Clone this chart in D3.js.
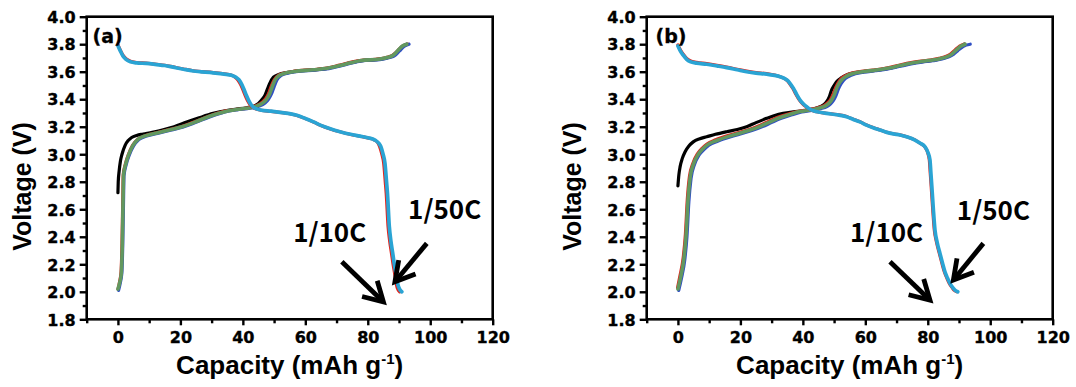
<!DOCTYPE html>
<html><head><meta charset="utf-8">
<script src="https://cdn.jsdelivr.net/npm/d3@7"></script>
<style>body{margin:0;background:#fff} svg{display:block}</style>
</head><body><svg id="c" width="1076" height="387"></svg>
<script>
// ---------- DATA (capacity mAh/g, voltage V) ----------
const xTicks = [0, 20, 40, 60, 80, 100, 120];
const xMinorTicks = [-10, 10, 30, 50, 70, 90, 110];
const yTickLabels = ["1.8","2.0","2.2","2.4","2.6","2.8","3.0","3.2","3.4","3.6","3.8","4.0"];
const yMinorTicks = [1.9, 2.1, 2.3, 2.5, 2.7, 2.9, 3.1, 3.3, 3.5, 3.7, 3.9];

// Panel (a)
const aChargeBlack = [[0.0,2.72],[0.1,2.80],[0.4,2.88],[0.8,2.95],[1.3,3.00],[2.3,3.065],[3.3,3.10],[4.4,3.122],[6.0,3.137],[8.1,3.147],[11.0,3.16],[14.5,3.178],[18.0,3.20],[22.0,3.234],[26.0,3.265],[30.5,3.297],[34.8,3.318],[38.0,3.328],[41.2,3.338],[43.5,3.35],[45.0,3.37],[46.2,3.40],[47.1,3.43],[47.8,3.47],[48.5,3.51],[49.8,3.56],[51.5,3.58],[54.0,3.594],[56.5,3.603],[62.6,3.613],[67.0,3.624],[71.1,3.645],[74.5,3.665],[77.5,3.679],[83.9,3.691],[86.5,3.704],[88.0,3.716],[89.5,3.748],[91.0,3.783],[92.4,3.80]];
const aChargeRed = [[0.05,2.02],[0.55,2.075],[1.0,2.145],[1.3,2.35],[1.5,2.60],[1.7,2.85],[2.4,2.93],[3.4,3.00],[4.7,3.065],[6.4,3.11],[8.9,3.136],[12.4,3.156],[16.9,3.181],[20.4,3.202],[23.9,3.23],[30.4,3.287],[34.7,3.315],[38.0,3.326],[41.2,3.335],[44.2,3.352],[46.2,3.378],[47.3,3.405],[48.3,3.445],[49.1,3.495],[50.0,3.54],[51.6,3.577],[53.8,3.593],[56.3,3.603],[62.5,3.615],[67.0,3.626],[71.0,3.648],[74.4,3.668],[77.4,3.681],[83.8,3.693],[86.5,3.706],[88.0,3.72],[89.6,3.752],[91.2,3.787],[92.8,3.80]];
const aChargeBlue = [[0.2,2.01],[0.75,2.065],[1.25,2.135],[1.55,2.35],[1.75,2.60],[1.95,2.845],[2.65,2.925],[3.65,2.995],[5.0,3.06],[6.7,3.106],[9.2,3.132],[12.7,3.152],[17.2,3.177],[20.7,3.197],[24.2,3.225],[30.7,3.282],[35.0,3.311],[38.2,3.323],[41.4,3.332],[44.9,3.347],[47.1,3.372],[48.2,3.40],[49.2,3.44],[50.0,3.49],[50.9,3.54],[52.4,3.574],[54.5,3.59],[57.0,3.6],[63.1,3.612],[67.5,3.623],[71.6,3.644],[75.0,3.664],[78.0,3.678],[84.4,3.69],[87.0,3.703],[88.6,3.716],[90.1,3.749],[91.6,3.784],[93.2,3.80]];
const aChargeGreen = [[0.0,2.02],[0.6,2.07],[1.1,2.14],[1.4,2.35],[1.6,2.60],[1.8,2.85],[2.5,2.93],[3.5,3.00],[4.8,3.065],[6.5,3.11],[9.0,3.135],[12.5,3.155],[17.0,3.18],[20.5,3.20],[24.0,3.228],[30.5,3.285],[34.8,3.313],[38.0,3.325],[41.2,3.334],[44.4,3.35],[46.5,3.375],[47.6,3.40],[48.6,3.44],[49.4,3.49],[50.3,3.54],[51.9,3.576],[54.0,3.592],[56.5,3.602],[62.6,3.614],[67.0,3.625],[71.1,3.645],[74.5,3.665],[77.5,3.68],[83.9,3.692],[86.5,3.705],[88.0,3.718],[89.5,3.75],[91.0,3.785],[92.5,3.80]];
const aDischargeRed = [[0.0,3.795],[0.8,3.755],[1.6,3.72],[2.6,3.694],[4.0,3.676],[6.0,3.667],[9.0,3.662],[12.4,3.654],[15.0,3.647],[17.7,3.635],[21.0,3.62],[24.1,3.607],[30.5,3.594],[34.0,3.585],[36.2,3.576],[37.5,3.56],[38.4,3.54],[39.2,3.51],[39.8,3.48],[40.6,3.435],[41.4,3.394],[42.3,3.36],[43.2,3.34],[44.5,3.327],[46.0,3.319],[49.0,3.312],[51.9,3.304],[54.5,3.296],[57.3,3.282],[60.0,3.259],[62.6,3.234],[65.0,3.209],[68.0,3.184],[71.1,3.163],[74.5,3.144],[77.5,3.131],[80.0,3.119],[82.2,3.102],[83.3,3.08],[83.8,3.055],[84.5,3.00],[85.1,2.934],[85.6,2.80],[85.9,2.716],[86.5,2.473],[87.0,2.37],[87.6,2.279],[88.1,2.20],[88.6,2.134],[89.0,2.08],[89.3,2.04],[89.7,2.015],[90.2,2.0]];
const aDischargeCyan = [[0.0,3.79],[0.8,3.75],[1.6,3.715],[2.6,3.69],[4.0,3.672],[6.0,3.664],[9.0,3.66],[12.4,3.652],[15.0,3.645],[17.7,3.633],[21.0,3.618],[24.1,3.605],[30.5,3.592],[34.0,3.583],[36.4,3.574],[37.8,3.56],[38.8,3.54],[39.6,3.51],[40.2,3.48],[41.0,3.435],[41.8,3.394],[42.6,3.362],[43.4,3.341],[44.6,3.328],[46.0,3.32],[49.0,3.313],[51.9,3.305],[54.5,3.297],[57.3,3.283],[60.0,3.26],[62.6,3.235],[65.0,3.21],[68.0,3.185],[71.1,3.164],[74.5,3.145],[77.5,3.132],[80.0,3.12],[82.3,3.103],[83.5,3.08],[84.2,3.055],[84.9,3.00],[85.5,2.934],[86.0,2.80],[86.3,2.716],[86.9,2.473],[87.4,2.37],[88.0,2.279],[88.5,2.20],[89.0,2.134],[89.4,2.08],[89.8,2.04],[90.3,2.015],[90.9,2.0]];

// Panel (b)
const bChargeBlack = [[0.0,2.77],[0.3,2.85],[0.7,2.91],[1.4,2.97],[2.3,3.018],[3.5,3.06],[4.9,3.09],[7.0,3.113],[9.2,3.127],[12.0,3.145],[15.6,3.164],[19.0,3.18],[22.0,3.20],[25.0,3.23],[28.4,3.261],[31.0,3.282],[33.7,3.297],[37.0,3.308],[40.2,3.316],[43.0,3.328],[45.5,3.345],[46.8,3.362],[47.6,3.382],[48.5,3.42],[49.2,3.467],[50.0,3.50],[50.8,3.527],[52.3,3.555],[54.0,3.576],[56.5,3.592],[59.0,3.60],[62.6,3.608],[67.0,3.623],[71.1,3.643],[74.5,3.66],[77.5,3.671],[81.0,3.681],[83.9,3.693],[86.0,3.707],[87.7,3.726],[89.0,3.752],[90.5,3.782],[91.7,3.80]];
const bChargeRed = [[-0.1,2.03],[0.6,2.11],[1.7,2.25],[2.4,2.42],[3.0,2.67],[3.7,2.84],[4.8,2.935],[6.3,3.005],[7.8,3.045],[9.3,3.075],[12.1,3.105],[17.4,3.145],[22.8,3.18],[26.2,3.21],[29.2,3.241],[32.2,3.27],[35.6,3.294],[38.7,3.313],[42.0,3.324],[44.7,3.338],[46.8,3.354],[48.0,3.375],[48.9,3.40],[49.7,3.437],[50.5,3.485],[51.3,3.52],[52.1,3.545],[53.7,3.572],[55.9,3.591],[58.7,3.602],[62.3,3.612],[66.7,3.627],[70.8,3.647],[74.2,3.664],[77.2,3.675],[80.7,3.685],[83.6,3.697],[85.7,3.71],[87.4,3.73],[88.7,3.757],[90.2,3.787],[91.6,3.80]];
const bChargeBlue = [[0.25,2.01],[1.1,2.095],[2.2,2.235],[2.9,2.405],[3.5,2.655],[4.2,2.825],[5.3,2.925],[6.8,2.995],[8.4,3.035],[9.9,3.065],[12.9,3.096],[18.3,3.136],[23.7,3.172],[27.1,3.201],[30.1,3.232],[33.1,3.261],[36.5,3.287],[39.6,3.307],[42.9,3.318],[45.6,3.332],[47.7,3.347],[48.9,3.367],[49.8,3.392],[50.6,3.427],[51.4,3.476],[52.2,3.512],[53.0,3.537],[54.6,3.565],[56.8,3.585],[59.6,3.597],[63.2,3.607],[67.6,3.622],[71.7,3.642],[75.1,3.659],[78.1,3.67],[81.6,3.68],[84.5,3.692],[86.6,3.706],[88.3,3.727],[89.6,3.753],[91.4,3.785],[93.6,3.80]];
const bChargeGreen = [[0.0,2.02],[0.8,2.10],[1.9,2.24],[2.6,2.41],[3.2,2.66],[3.9,2.83],[5.0,2.93],[6.5,3.00],[8.0,3.04],[9.5,3.07],[12.4,3.10],[17.7,3.14],[23.1,3.176],[26.5,3.205],[29.5,3.236],[32.5,3.265],[35.9,3.29],[39.0,3.31],[42.3,3.321],[45.0,3.335],[47.1,3.35],[48.3,3.37],[49.2,3.394],[50.0,3.43],[50.8,3.479],[51.6,3.515],[52.4,3.54],[54.0,3.568],[56.2,3.588],[59.0,3.60],[62.6,3.61],[67.0,3.625],[71.1,3.645],[74.5,3.662],[77.5,3.673],[81.0,3.683],[83.9,3.695],[86.0,3.708],[87.7,3.728],[89.0,3.755],[90.5,3.785],[91.9,3.80]];
const bDischargeRed = [[0.0,3.795],[0.8,3.757],[1.7,3.727],[2.8,3.697],[3.9,3.68],[6.0,3.668],[9.2,3.659],[12.5,3.647],[15.6,3.634],[19.0,3.618],[22.0,3.604],[25.0,3.594],[28.4,3.586],[31.0,3.576],[32.5,3.566],[34.0,3.552],[35.1,3.533],[36.0,3.505],[36.8,3.479],[37.8,3.435],[38.9,3.394],[40.0,3.364],[41.0,3.345],[42.1,3.328],[43.2,3.317],[45.3,3.306],[47.5,3.298],[51.0,3.288],[54.0,3.274],[56.0,3.256],[58.3,3.236],[60.4,3.213],[62.5,3.194],[64.7,3.177],[66.9,3.16],[69.0,3.149],[71.1,3.141],[73.5,3.126],[75.9,3.104],[77.5,3.08],[79.0,3.055],[80.0,3.01],[80.5,2.958],[80.8,2.86],[81.1,2.764],[81.6,2.594],[82.1,2.449],[82.8,2.36],[83.7,2.279],[84.5,2.21],[85.3,2.145],[86.1,2.10],[86.9,2.061],[87.8,2.03],[88.4,2.012],[89.3,2.0]];
const bDischargeCyan = [[0.0,3.787],[0.8,3.75],[1.7,3.72],[2.8,3.69],[3.9,3.673],[6.0,3.662],[9.2,3.654],[12.5,3.642],[15.6,3.63],[19.0,3.614],[22.0,3.60],[25.0,3.59],[28.4,3.583],[31.0,3.573],[32.7,3.564],[34.2,3.55],[35.3,3.532],[36.2,3.505],[37.0,3.479],[38.0,3.435],[39.1,3.394],[40.2,3.365],[41.2,3.345],[42.3,3.327],[43.4,3.316],[45.5,3.305],[47.6,3.297],[51.0,3.287],[54.0,3.273],[56.0,3.255],[58.3,3.235],[60.4,3.212],[62.5,3.193],[64.7,3.176],[66.9,3.159],[69.0,3.148],[71.1,3.14],[73.5,3.125],[75.9,3.103],[77.6,3.08],[79.1,3.055],[80.1,3.01],[80.7,2.958],[81.0,2.86],[81.3,2.764],[81.8,2.594],[82.3,2.449],[83.0,2.36],[83.9,2.279],[84.7,2.21],[85.5,2.145],[86.3,2.10],[87.1,2.061],[88.0,2.03],[88.7,2.012],[89.6,2.0]];

// Annotations (data coordinates): [tail, tip], text anchors
const aArrow10 = [[71.7,2.218],[85.0,1.927]];
const aArrow50 = [[98.9,2.352],[88.7,2.073]];
const bArrow10 = [[67.9,2.218],[80.7,1.94]];
const bArrow50 = [[97.8,2.352],[88.2,2.085]];
const aText10 = [56.1,2.362], aText50 = [92.9,2.529];
const bText10 = [55.1,2.365], bText50 = [89.3,2.521];
const rateLabels = ["1/10C", "1/50C"];
const panelLabels = ["(a)", "(b)"];

// ---------- DRAWING ----------
const svg = d3.select("#c");
const COLORS = {black:"#000000", red:"#e3241c", blue:"#2f4fc4", green:"#62985f", cyan:"#2aa4d4"};
const TICKFONT = "'DejaVu Sans', sans-serif";
const TITLEFONT = "'Liberation Sans', Arial, sans-serif";
const TOP = 16.7, BOTTOM = 319.3;

function drawPanel(cfg) {
  const x = d3.scaleLinear().domain([-10, 120]).range([cfg.x0, cfg.x1]);
  const y = d3.scaleLinear().domain([1.8, 4.0]).range([BOTTOM, TOP]);
  const g = svg.append("g");

  // Curves
  const line = d3.line().x(d => x(d[0])).y(d => y(d[1])).curve(d3.curveMonotoneX);
  cfg.series.forEach(s => {
    g.append("path").datum(s.data)
      .attr("d", line).attr("fill", "none")
      .attr("stroke", s.color).attr("stroke-width", s.w)
      .attr("stroke-linejoin", "round").attr("stroke-linecap", "round");
  });

  // Axes
  const yAx = g.append("g").attr("transform", `translate(${cfg.x0},0)`)
    .call(d3.axisLeft(y).tickValues(yTickLabels.map(Number)).tickFormat((d,i) => yTickLabels[i]).tickSize(7).tickPadding(4).tickSizeOuter(0));
  const yAxMin = g.append("g").attr("transform", `translate(${cfg.x0},0)`)
    .call(d3.axisLeft(y).tickValues(yMinorTicks).tickFormat("").tickSize(4).tickSizeOuter(0));
  const xAx = g.append("g").attr("transform", `translate(0,${BOTTOM})`)
    .call(d3.axisBottom(x).tickValues(xTicks).tickFormat(d3.format("d")).tickSize(6).tickPadding(6).tickSizeOuter(0));
  const xAxMin = g.append("g").attr("transform", `translate(0,${BOTTOM})`)
    .call(d3.axisBottom(x).tickValues(xMinorTicks).tickFormat("").tickSize(4).tickSizeOuter(0));
  [yAx, yAxMin, xAx, xAxMin].forEach(a => {
    a.select(".domain").remove();
    a.selectAll("line").attr("stroke", "#000").attr("stroke-width", 2.4);
    a.selectAll("text").attr("font-family", TICKFONT).attr("font-weight", "bold")
      .attr("font-size", 16).attr("fill", "#000")
      .attr("stroke", "#000").attr("stroke-width", 0.35);
  });
  xAx.selectAll("text").attr("dy", null).attr("y", 23.6);
  yAx.selectAll("text").attr("dy", "0.36em");

  // Frame
  g.append("rect").attr("x", cfg.x0).attr("y", TOP)
    .attr("width", cfg.x1 - cfg.x0).attr("height", BOTTOM - TOP)
    .attr("fill", "none").attr("stroke", "#000").attr("stroke-width", 2.6);

  // Titles
  g.append("text").attr("x", (cfg.x0 + cfg.x1) / 2).attr("y", 374)
    .attr("text-anchor", "middle").attr("font-family", TITLEFONT)
    .attr("font-weight", "bold").attr("font-size", 26).attr("fill", "#000")
    .call(t => {
      t.append("tspan").text("Capacity (mAh g");
      t.append("tspan").attr("font-size", 15).attr("dy", -10).text("-1");
      t.append("tspan").attr("dy", 10).text(")");
    });
  g.append("text")
    .attr("transform", `translate(${cfg.ytitleX},186.5) rotate(-90)`)
    .attr("text-anchor", "middle").attr("font-family", TITLEFONT)
    .attr("font-weight", "bold").attr("font-size", 25).attr("fill", "#000")
    .text("Voltage (V)");

  // Panel label
  g.append("text").attr("x", cfg.labelX).attr("y", 42.5)
    .attr("font-family", TICKFONT).attr("font-weight", "bold").attr("font-size", 19)
    .attr("fill", "#000").attr("stroke", "#000").attr("stroke-width", 0.3).text(cfg.label);

  // Rate texts
  [[cfg.text10, rateLabels[0]], [cfg.text50, rateLabels[1]]].forEach(([p, s]) => {
    g.append("text").attr("x", x(p[0])).attr("y", y(p[1]))
      .attr("font-family", "'Noto Sans CJK KR', 'Noto Sans', sans-serif")
      .attr("font-weight", "bold").attr("font-size", 26).attr("fill", "#000").text(s);
  });

  // Arrows
  [cfg.arrow10, cfg.arrow50].forEach(a => {
    const x1 = x(a[0][0]), y1 = y(a[0][1]), x2 = x(a[1][0]), y2 = y(a[1][1]);
    const ang = Math.atan2(y2 - y1, x2 - x1);
    const hl = 22, ha = 0.52;
    g.append("line").attr("x1", x1).attr("y1", y1).attr("x2", x2 - 2*Math.cos(ang)).attr("y2", y2 - 2*Math.sin(ang))
      .attr("stroke", "#000").attr("stroke-width", 4.8);
    const p1 = [x2 - hl*Math.cos(ang - ha), y2 - hl*Math.sin(ang - ha)];
    const p2 = [x2 - hl*Math.cos(ang + ha), y2 - hl*Math.sin(ang + ha)];
    g.append("path").attr("d", `M${p1}L${x2},${y2}L${p2}`)
      .attr("fill", "none").attr("stroke", "#000").attr("stroke-width", 4.8)
      .attr("stroke-linejoin", "miter");
  });
}

drawPanel({
  x0: 86.7, x1: 492.7, ytitleX: 31, labelX: 92.5, label: panelLabels[0],
  series: [
    {data: aChargeBlack, color: COLORS.black, w: 3.2},
    {data: aChargeRed, color: COLORS.red, w: 3.2},
    {data: aChargeBlue, color: COLORS.blue, w: 3.2},
    {data: aChargeGreen, color: COLORS.green, w: 3.6},
    {data: aDischargeRed, color: COLORS.red, w: 3.2},
    {data: aDischargeCyan, color: COLORS.cyan, w: 3.7}
  ],
  arrow10: aArrow10, arrow50: aArrow50, text10: aText10, text50: aText50
});
drawPanel({
  x0: 646.7, x1: 1052.7, ytitleX: 581, labelX: 655.5, label: panelLabels[1],
  series: [
    {data: bChargeBlack, color: COLORS.black, w: 3.2},
    {data: bChargeRed, color: COLORS.red, w: 3.2},
    {data: bChargeBlue, color: COLORS.blue, w: 3.2},
    {data: bChargeGreen, color: COLORS.green, w: 3.6},
    {data: bDischargeRed, color: COLORS.red, w: 3.2},
    {data: bDischargeCyan, color: COLORS.cyan, w: 3.7}
  ],
  arrow10: bArrow10, arrow50: bArrow50, text10: bText10, text50: bText50
});
</script></body></html>
